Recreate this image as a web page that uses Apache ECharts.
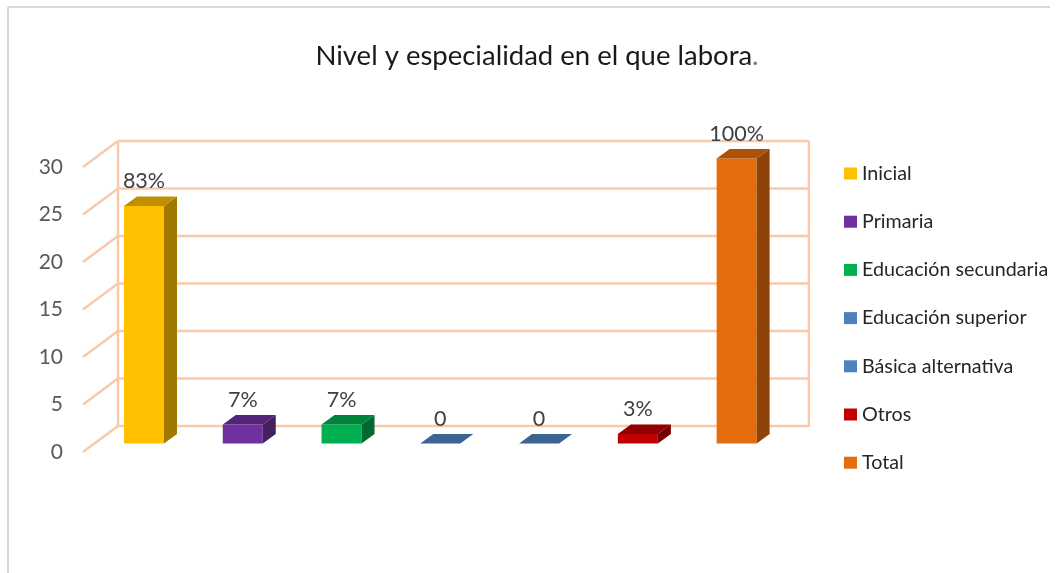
<!DOCTYPE html>
<html>
<head>
<meta charset="utf-8">
<style>html,body{margin:0;padding:0;background:#fff}#c{width:1057px;height:573px}</style>
<script src="https://cdn.jsdelivr.net/npm/echarts@6/dist/echarts.min.js"></script>
</head>
<body>
<div id="c"></div>
<script>
const categories = ['Inicial','Primaria','Educación secundaria','Educación superior','Básica alternativa','Otros','Total'];
const values = [25, 2, 2, 0, 0, 1, 30];
const pointLabels = ['83%','7%','7%','0','0','3%','100%'];
const yTicks = [0,5,10,15,20,25,30];
const frontColors = ['#FFC000','#7030A0','#00B050','#4F81BD','#4F81BD','#C00000','#E46C0A'];
const topColors   = ['#BF9000','#54247A','#00843C','#3A6491','#3A6491','#900000','#AB5108'];
const sideColors  = ['#A07A00','#43205F','#006A30','#305478','#305478','#730000','#8F4306'];

const FONT = 'Lato, "Open Sans", sans-serif';
const WALL = '#F8CAA9';
const BAR_OFFSET = [11.6, -8.5];
const BAR_DEPTH = [13, -9.5];
const WALL_DEPTH = [35, -26];

function poly(points, fill) {
  return {type:'polygon', shape:{points}, style:{fill}};
}

function wallItem(params, api) {
  const sys = params.coordSys;
  const t = api.value(1);
  const p = api.coord([0, t]);
  const y = p[1];
  const lineStyle = {stroke:WALL, lineWidth:2.5, fill:null};
  const x0 = sys.x, bx = sys.x + WALL_DEPTH[0], by = y + WALL_DEPTH[1], rx = bx + sys.width - 0.5;
  const children = [
    {type:'line', shape:{x1:x0,y1:y,x2:bx,y2:by}, style:lineStyle},
    {type:'line', shape:{x1:bx,y1:by,x2:rx,y2:by}, style:lineStyle}
  ];
  if (t === yTicks[yTicks.length-1]) {
    const bottom = api.coord([0, yTicks[0]])[1] + WALL_DEPTH[1] + 1;
    children.push({type:'line', shape:{x1:bx,y1:by,x2:bx,y2:bottom}, style:lineStyle});
    children.push({type:'line', shape:{x1:rx,y1:by,x2:rx,y2:bottom}, style:lineStyle});
  }
  return {type:'group', children};
}

function barItem(i) {
  return function (params, api) {
    const c = api.coord([api.value(0), api.value(1)]);
    const base = api.coord([api.value(0), 0]);
    const w = api.size([1,0])[0] * 0.405;
    const l = c[0] - w/2 + BAR_OFFSET[0], r = l + w;
    const t = c[1] + BAR_OFFSET[1], b = base[1] + BAR_OFFSET[1];
    const dx = BAR_DEPTH[0], dy = BAR_DEPTH[1];
    const children = [];
    if (b > t) {
      children.push({type:'rect', shape:{x:l,y:t,width:w,height:b-t}, style:{fill:frontColors[i]}});
      children.push(poly([[r,t],[r+dx,t+dy],[r+dx,b+dy],[r,b]], sideColors[i]));
    }
    children.push(poly([[l,t],[l+dx,t+dy],[r+dx,t+dy],[r,t]], topColors[i]));
    children.push({type:'text', style:{
      text:pointLabels[i], x:(l+r)/2, y:t+dy-15, align:'center', verticalAlign:'middle',
      font:'21.5px '+FONT, fill:'#404040'
    }});
    return {type:'group', children};
  };
}

const series = [{
  type:'custom', name:'muro', z:1, silent:true,
  data: yTicks.map(t => [categories[0], t]),
  encode:{x:0,y:1},
  renderItem: wallItem
}].concat(categories.map((name,i) => ({
  type:'custom', name, z:2+(i===6?1:0),
  itemStyle:{color:frontColors[i]},
  data:[[name, values[i]]],
  encode:{x:0,y:1},
  renderItem: barItem(i)
})));

const chart = echarts.init(document.getElementById('c'), null, {renderer:'canvas'});
chart.setOption({
  animation:false,
  backgroundColor:'#fff',
  title:{
    text:'{a|Nivel y especialidad en el que labora}{b|.}',
    left:532, top:37, textAlign:'center',
    textStyle:{rich:{
      a:{fontFamily:FONT,fontSize:27.5,color:'#1a1a1a',fontWeight:'normal'},
      b:{fontFamily:FONT,fontSize:27.5,color:'#7F7F7F',fontWeight:'normal'}
    }}
  },
  legend:{
    data:categories, orient:'vertical', left:839, top:158.5,
    icon:'rect', itemWidth:13, itemHeight:12, itemGap:28.2,
    selectedMode:false,
    textStyle:{fontFamily:FONT,fontSize:19.7,color:'#262626',lineHeight:20,padding:[0,0,0,0]}
  },
  grid:{left:83, top:167, width:691.4, height:285, containLabel:false},
  xAxis:{type:'category', data:categories, show:false, boundaryGap:true},
  yAxis:{
    type:'value', min:0, max:30, interval:5,
    axisLine:{show:false}, axisTick:{show:false}, splitLine:{show:false},
    axisLabel:{fontFamily:FONT, fontSize:21, color:'#595959', margin:20, padding:[6,0,0,0]}
  },
  graphic:[
    {type:'line', shape:{x1:8,y1:7,x2:1050,y2:7}, style:{stroke:'#D9D9D9',lineWidth:2}, silent:true},
    {type:'line', shape:{x1:8,y1:7,x2:8,y2:573}, style:{stroke:'#D9D9D9',lineWidth:2}, silent:true}
  ],
  series
});
</script>
</body>
</html>
